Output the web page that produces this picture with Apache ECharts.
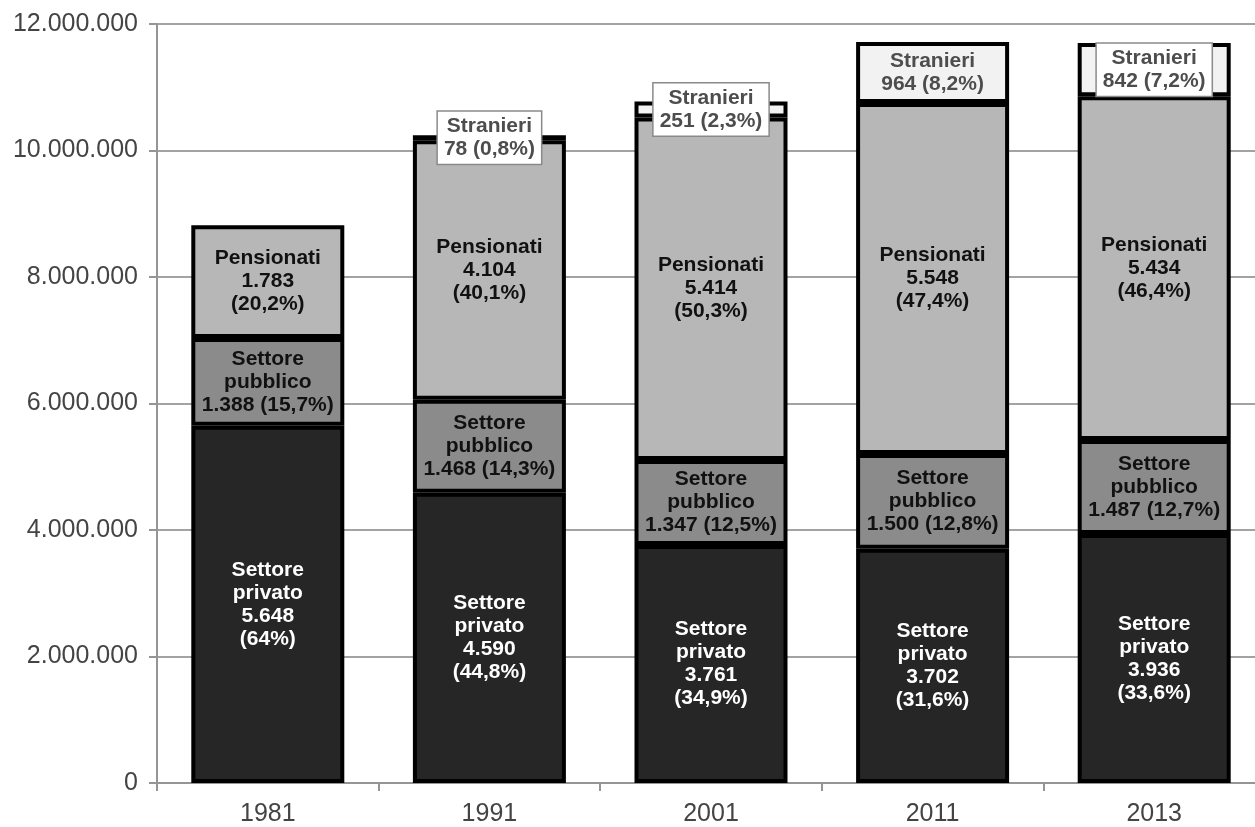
<!DOCTYPE html>
<html>
<head>
<meta charset="utf-8">
<script src="https://cdn.jsdelivr.net/npm/echarts@6/dist/echarts.min.js"></script>
<style>
html,body{margin:0;padding:0;background:#fff;overflow:hidden;}
#c{width:1265px;height:827px;}
</style>
</head>
<body>
<div id="c"></div>
<script>
// Data (thousands)
var years = ['1981', '1991', '2001', '2011', '2013'];
var privato = [5648, 4590, 3761, 3702, 3936];
var pubblico = [1388, 1468, 1347, 1500, 1487];
var pensionati = [1783, 4104, 5414, 5548, 5434];
var stranieri = [null, 78, 251, 964, 842];
var pctPrivato = ['64%', '44,8%', '34,9%', '31,6%', '33,6%'];
var pctPubblico = ['15,7%', '14,3%', '12,5%', '12,8%', '12,7%'];
var pctPensionati = ['20,2%', '40,1%', '50,3%', '47,4%', '46,4%'];
var pctStranieri = [null, '0,8%', '2,3%', '8,2%', '7,2%'];
var yTicks = [0, 2000, 4000, 6000, 8000, 10000, 12000];

function fmt(n) {
  return String(n).replace(/\B(?=(\d{3})+(?!\d))/g, '.');
}

var FONT = "'Liberation Sans', Arial, sans-serif";
var labelBase = {
  show: true,
  position: 'inside',
  fontFamily: FONT,
  fontWeight: 'bold',
  fontSize: 21,
  lineHeight: 23
};
var itemBase = { borderColor: '#000', borderWidth: 4 };
var BW = 153;

var chart = echarts.init(document.getElementById('c'), null, { renderer: 'canvas' });

var strData = stranieri.map(function (v, i) {
  if (v == null) return null;
  var boxed = (years[i] !== '2011');
  return {
    value: v,
    label: boxed ? {
      backgroundColor: '#fff',
      borderColor: '#8a8a8a',
      borderWidth: 1.5,
      padding: [3, 6, 3, 6]
    } : {}
  };
});

chart.setOption({
  animation: false,
  grid: { left: 157, right: 0, top: 24, bottom: 42, containLabel: false },
  xAxis: {
    type: 'category',
    data: years,
    axisLine: { lineStyle: { color: '#959595', width: 2 } },
    axisTick: { show: true, length: 8, lineStyle: { color: '#959595', width: 2 } },
    axisLabel: { fontFamily: FONT, fontSize: 25, color: '#444', margin: 19 }
  },
  yAxis: {
    type: 'value',
    min: 0,
    max: 12000,
    interval: 2000,
    axisLine: { show: true, lineStyle: { color: '#959595', width: 2 } },
    axisTick: { show: true, length: 8, lineStyle: { color: '#959595', width: 2 } },
    splitLine: { show: true, lineStyle: { color: '#a3a3a3', width: 2 } },
    axisLabel: {
      fontFamily: FONT, fontSize: 25, color: '#444', margin: 19,
      formatter: function (v) { return yTicks.indexOf(v) >= 0 ? fmt(v * 1000) : ''; }
    }
  },
  series: [
    {
      name: 'Settore privato', type: 'bar', stack: 't', barWidth: BW,
      data: privato,
      itemStyle: Object.assign({ color: '#262626' }, itemBase),
      label: Object.assign({}, labelBase, {
        color: '#fff',
        formatter: function (p) { return 'Settore\nprivato\n' + fmt(p.value) + '\n(' + pctPrivato[p.dataIndex] + ')'; }
      })
    },
    {
      name: 'Settore pubblico', type: 'bar', stack: 't', barWidth: BW,
      data: pubblico,
      itemStyle: Object.assign({ color: '#8b8b8b' }, itemBase),
      label: Object.assign({}, labelBase, {
        color: '#111',
        formatter: function (p) { return 'Settore\npubblico\n' + fmt(p.value) + ' (' + pctPubblico[p.dataIndex] + ')'; }
      })
    },
    {
      name: 'Pensionati', type: 'bar', stack: 't', barWidth: BW,
      data: pensionati,
      itemStyle: Object.assign({ color: '#b7b7b7' }, itemBase),
      label: Object.assign({}, labelBase, {
        color: '#111',
        formatter: function (p) { return 'Pensionati\n' + fmt(p.value) + '\n(' + pctPensionati[p.dataIndex] + ')'; }
      })
    },
    {
      name: 'Stranieri', type: 'bar', stack: 't', barWidth: BW,
      data: strData,
      itemStyle: Object.assign({ color: '#f2f2f2' }, itemBase),
      label: Object.assign({}, labelBase, {
        color: '#4d4d4d',
        formatter: function (p) { return 'Stranieri\n' + fmt(p.value) + ' (' + pctStranieri[p.dataIndex] + ')'; }
      })
    }
  ]
});
</script>
</body>
</html>
